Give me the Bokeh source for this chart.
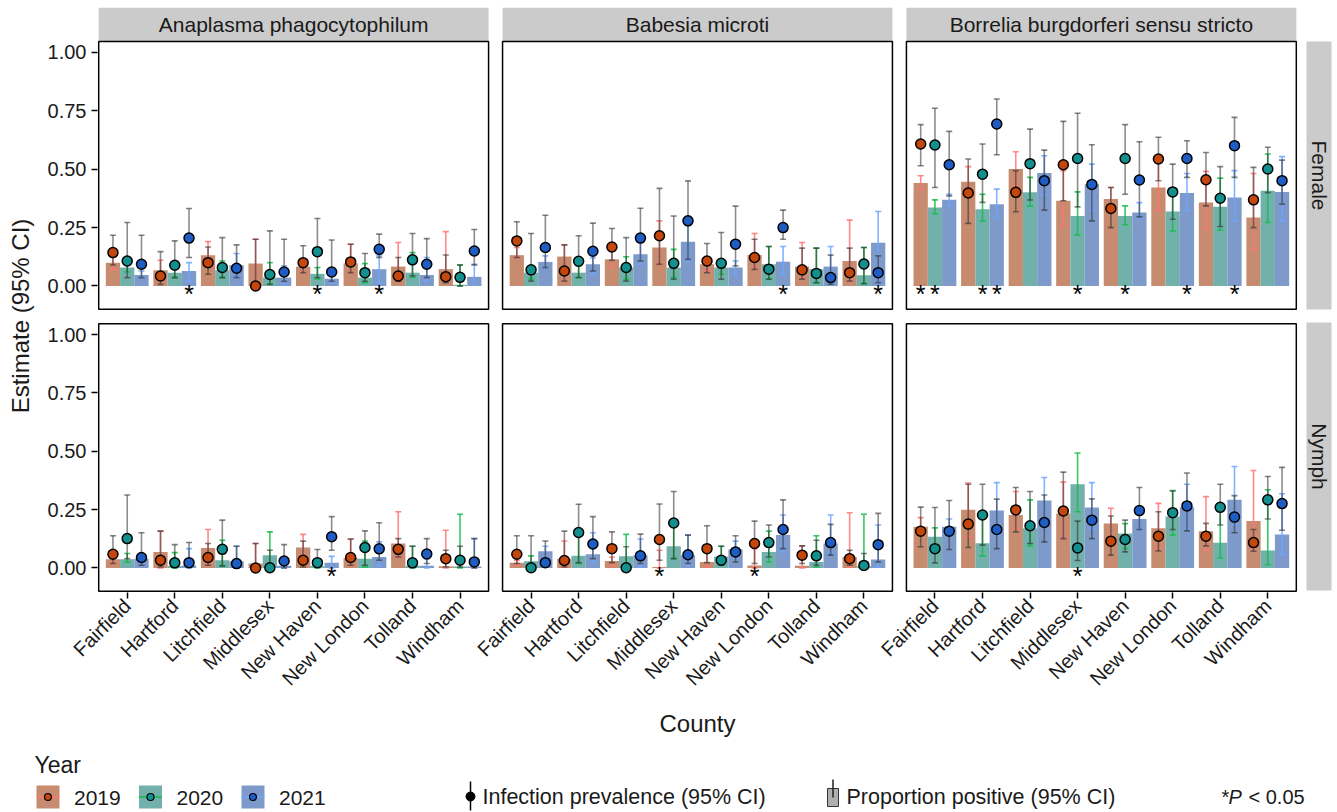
import math
from bokeh.plotting import figure
from bokeh.models import FactorRange, Range1d, FixedTicker, ColumnDataSource, Spacer, PrintfTickFormatter
from bokeh.layouts import row, column
from bokeh.transform import dodge
from bokeh.core.properties import value
from bokeh.embed import file_html
from bokeh.resources import INLINE

COUNTIES = ["Fairfield", "Hartford", "Litchfield", "Middlesex",
            "New Haven", "New London", "Tolland", "Windham"]
YEARS = ["2019", "2020", "2021"]
PATHOGENS = ["Anaplasma phagocytophilum", "Babesia microti",
             "Borrelia burgdorferi sensu stricto"]
STAGES = ["Female", "Nymph"]

# values ordered county by county, [2019, 2020, 2021] within each county
# ---- Anaplasma, Female
ANA_F_BAR = [.100, .079, .047, .067, .057, .064, .132, .067, .089, .096, .036, .036,
             .083, .052, .031, .097, .036, .072, .083, .057, .047, .072, .005, .039]
ANA_F_BLO = [.070, .060, .036, .021, .036, .020, .080, .036, .036, .000, .007, .007,
             .057, .030, .014, .057, .014, .014, .020, .036, .020, .020, .000, .007]
ANA_F_BHI = [.130, .093, .064, .110, .079, .100, .190, .107, .139, .200, .100, .086,
             .107, .079, .057, .179, .096, .129, .186, .143, .122, .233, .090, .093]
ANA_F_PT = [.143, .107, .093, .043, .089, .205, .100, .079, .076, .000, .049, .060,
            .100, .147, .060, .103, .057, .157, .043, .112, .093, .040, .037, .150]
ANA_F_PLO = [.090, .036, .036, .007, .036, .122, .050, .036, .036, .000, .007, .020,
             .057, .036, .020, .057, .020, .122, .020, .043, .036, .014, .000, .090]
ANA_F_PHI = [.217, .272, .217, .147, .193, .332, .167, .207, .176, .200, .236, .200,
             .172, .289, .197, .179, .139, .222, .122, .225, .203, .133, .090, .242]
ANA_F_STAR = [("Hartford", "2021"), ("New Haven", "2020"), ("New London", "2021")]

# ---- Babesia, Female
BAB_F_BAR = [.132, .057, .103, .126, .057, .093, .114, .079, .136, .165, .079, .189,
             .093, .079, .079, .133, .093, .104, .083, .072, .083, .107, .046, .185]
BAB_F_BLO = [.120, .030, .079, .020, .036, .050, .079, .030, .093, .093, .036, .107,
             .064, .050, .050, .079, .030, .050, .036, .014, .007, .021, .010, .014]
BAB_F_BHI = [.165, .080, .129, .176, .086, .120, .167, .125, .195, .279, .157, .260,
             .122, .100, .107, .225, .169, .169, .186, .162, .169, .282, .165, .319]
BAB_F_PT = [.193, .069, .165, .064, .106, .149, .167, .079, .205, .215, .097, .279,
            .107, .097, .179, .122, .072, .250, .069, .054, .036, .057, .094, .057]
BAB_F_PLO = [.122, .021, .079, .021, .036, .064, .110, .021, .107, .093, .029, .114,
             .057, .029, .086, .071, .029, .200, .029, .014, .007, .021, .010, .014]
BAB_F_PHI = [.275, .225, .303, .176, .215, .269, .246, .207, .333, .418, .300, .450,
             .182, .229, .342, .200, .169, .325, .162, .162, .132, .162, .165, .129]
BAB_F_STAR = [("New London", "2021"), ("Windham", "2021")]

# ---- Borrelia, Female
BOR_F_BAR = [.441, .336, .369, .446, .329, .350, .501, .401, .484, .365, .300, .436,
             .373, .300, .315, .422, .319, .398, .358, .339, .379, .293, .408, .403]
BOR_F_BLO = [.415, .310, .345, .380, .279, .293, .430, .343, .390, .255, .219, .322,
             .330, .262, .290, .322, .236, .322, .246, .239, .279, .157, .272, .279]
BOR_F_BHI = [.472, .369, .393, .511, .393, .415, .575, .465, .558, .494, .403, .522,
             .422, .343, .357, .544, .400, .482, .491, .462, .494, .482, .565, .554]
BOR_F_PT = [.608, .604, .519, .398, .479, .694, .401, .524, .451, .519, .546, .435,
            .332, .546, .454, .544, .403, .546, .455, .376, .601, .369, .501, .451]
BOR_F_PLO = [.515, .422, .386, .268, .358, .562, .318, .368, .325, .365, .339, .279,
             .250, .393, .296, .451, .286, .465, .343, .255, .465, .250, .400, .350]
BOR_F_PHI = [.691, .761, .662, .544, .608, .801, .494, .672, .582, .705, .740, .605,
             .422, .691, .618, .637, .522, .622, .572, .511, .722, .508, .594, .539]
BOR_F_STAR = [("Fairfield", "2019"), ("Fairfield", "2020"), ("Hartford", "2020"),
              ("Hartford", "2021"), ("Middlesex", "2020"), ("New Haven", "2020"),
              ("New London", "2021"), ("Tolland", "2021")]

# ---- Anaplasma, Nymph
ANA_N_BAR = [.037, .037, .040, .069, .009, .011, .086, .033, .029, .019, .055, .010,
             .088, .009, .023, .043, .040, .047, .105, .010, .010, .008, .006, .006]
ANA_N_BLO = [.020, .025, .020, .000, .000, .000, .012, .009, .000, .000, .000, .000,
             .019, .000, .000, .012, .005, .012, .047, .000, .000, .000, .000, .000]
ANA_N_BHI = [.050, .062, .050, .158, .066, .083, .165, .119, .093, .105, .155, .030,
             .144, .030, .050, .124, .115, .112, .241, .093, .040, .162, .230, .126]
ANA_N_PT = [.059, .126, .045, .033, .022, .023, .045, .080, .019, .000, .001, .030,
            .033, .023, .134, .045, .088, .082, .080, .022, .060, .040, .033, .026]
ANA_N_PLO = [.019, .040, .012, .004, .004, .004, .012, .009, .000, .000, .000, .000,
             .004, .004, .076, .012, .012, .033, .047, .004, .019, .004, .004, .000]
ANA_N_PHI = [.138, .313, .151, .158, .100, .109, .105, .205, .093, .105, .076, .100,
             .115, .079, .220, .124, .159, .194, .126, .093, .126, .076, .093, .126]
ANA_N_STAR = [("New Haven", "2021")]

# ---- Babesia, Nymph
BAB_N_BAR = [.023, .029, .072, .040, .052, .059, .030, .050, .055, .004, .093, .055,
             .026, .049, .079, .011, .069, .141, .010, .026, .105, .047, .008, .036]
BAB_N_BLO = [.012, .000, .026, .004, .019, .026, .009, .000, .004, .000, .040, .012,
             .004, .012, .040, .000, .026, .069, .000, .004, .062, .004, .000, .004]
BAB_N_BHI = [.033, .052, .093, .116, .150, .151, .047, .144, .124, .076, .184, .141,
             .083, .093, .115, .083, .158, .227, .095, .138, .227, .237, .230, .184]
BAB_N_PT = [.059, .001, .023, .032, .152, .103, .083, .001, .052, .122, .193, .057,
            .083, .033, .069, .105, .109, .165, .055, .052, .109, .040, .011, .100]
BAB_N_PLO = [.019, .000, .012, .004, .023, .040, .023, .000, .019, .033, .040, .019,
             .023, .012, .026, .019, .047, .083, .019, .012, .055, .012, .000, .026]
BAB_N_PHI = [.138, .138, .116, .158, .273, .220, .155, .091, .145, .274, .328, .141,
             .181, .093, .138, .201, .184, .292, .095, .119, .187, .076, .062, .234]
BAB_N_STAR = [("Middlesex", "2019"), ("New London", "2019")]

# ---- Borrelia, Nymph
BOR_N_BAR = [.177, .134, .177, .250, .106, .246, .227, .170, .289, .234, .359, .259,
             .191, .148, .210, .170, .221, .260, .158, .108, .292, .201, .075, .144]
BOR_N_BLO = [.141, .083, .141, .134, .052, .141, .170, .095, .191, .126, .241, .170,
             .112, .083, .167, .083, .141, .170, .076, .043, .184, .083, .014, .055]
BOR_N_BHI = [.216, .172, .210, .364, .220, .366, .328, .292, .388, .368, .493, .366,
             .256, .190, .257, .277, .332, .359, .306, .259, .435, .418, .335, .318]
BOR_N_PT = [.158, .083, .158, .188, .227, .165, .249, .181, .195, .244, .086, .205,
            .115, .122, .246, .136, .237, .266, .136, .260, .218, .109, .292, .276]
BOR_N_PLO = [.091, .022, .079, .088, .098, .083, .155, .105, .112, .126, .032, .126,
             .055, .069, .165, .073, .165, .159, .095, .184, .151, .072, .210, .162]
BOR_N_PHI = [.261, .259, .289, .359, .359, .295, .345, .328, .313, .411, .201, .296,
             .223, .205, .345, .241, .330, .407, .191, .359, .310, .165, .392, .431]
BOR_N_STAR = [("Middlesex", "2020")]

PANELS = {
    ("Female", 0): (ANA_F_BAR, ANA_F_BLO, ANA_F_BHI, ANA_F_PT, ANA_F_PLO, ANA_F_PHI, ANA_F_STAR),
    ("Female", 1): (BAB_F_BAR, BAB_F_BLO, BAB_F_BHI, BAB_F_PT, BAB_F_PLO, BAB_F_PHI, BAB_F_STAR),
    ("Female", 2): (BOR_F_BAR, BOR_F_BLO, BOR_F_BHI, BOR_F_PT, BOR_F_PLO, BOR_F_PHI, BOR_F_STAR),
    ("Nymph", 0): (ANA_N_BAR, ANA_N_BLO, ANA_N_BHI, ANA_N_PT, ANA_N_PLO, ANA_N_PHI, ANA_N_STAR),
    ("Nymph", 1): (BAB_N_BAR, BAB_N_BLO, BAB_N_BHI, BAB_N_PT, BAB_N_PLO, BAB_N_PHI, BAB_N_STAR),
    ("Nymph", 2): (BOR_N_BAR, BOR_N_BLO, BOR_N_BHI, BOR_N_PT, BOR_N_PLO, BOR_N_PHI, BOR_N_STAR),
}

FONT = "Liberation Sans"
TXT = "#1a1a1a"
STRIP_BG = "#CBCBCB"
BAR_COL = ["#C78B6F", "#72B0AC", "#7E9ACB"]
ERR_COL = ["#FF7575", "#14BE4A", "#6FA6FF"]
PT_COL = ["#C4470E", "#13908E", "#1F5DC4"]
OFFS = [-0.3, 0.0, 0.3]
STAR_Y = -0.036
Y_LO, Y_HI = -0.1, 1.047
STRIP_H = 0.1457   # strip height, in data units of the panel scale


def make_row(stage):
    row_i = STAGES.index(stage)
    top_strip = row_i == 0
    factors = [(pth, c) for pth in PATHOGENS for c in COUNTIES]
    xr = FactorRange(factors=factors, factor_padding=0, group_padding=0.494,
                     range_padding=0.125, range_padding_units="absolute")
    y_end = Y_HI + STRIP_H if top_strip else Y_HI + 0.005
    p = figure(x_range=xr, y_range=Range1d(Y_LO - 0.005, y_end),
               frame_width=1200, frame_height=303 if top_strip else 270,
               output_backend="svg", toolbar_location=None,
               min_border_top=0, min_border_right=1, min_border_left=57,
               min_border_bottom=148 if row_i == 1 else 0,
               x_axis_location="below" if row_i == 1 else None,
               y_axis_location="left")
    p.xgrid.visible = False
    p.ygrid.visible = False
    p.outline_line_color = None
    p.background_fill_color = "white"
    p.border_fill_color = "white"

    cols = {k: [] for k in ("x", "bar", "blo", "bhi", "pt", "plo", "phi", "year")}
    star_x = {yr: [] for yr in YEARS}
    for ci, pth in enumerate(PATHOGENS):
        bar, blo, bhi, pt, plo, phi, stars = PANELS[(stage, ci)]
        for i, c in enumerate(COUNTIES):
            for k, yr in enumerate(YEARS):
                j = i * 3 + k
                cols["x"].append((pth, c))
                cols["bar"].append(bar[j]); cols["blo"].append(blo[j]); cols["bhi"].append(bhi[j])
                cols["pt"].append(pt[j]); cols["plo"].append(plo[j]); cols["phi"].append(phi[j])
                cols["year"].append(yr)
        for c, yr in stars:
            star_x[yr].append((pth, c))

    srcs = []
    for k, yr in enumerate(YEARS):
        idx = [i for i, y in enumerate(cols["year"]) if y == yr]
        srcs.append(ColumnDataSource({key: [v[i] for i in idx] for key, v in cols.items()}))

    def X(k):
        return dodge("x", OFFS[k], range=xr)

    for k in range(3):
        p.vbar(x=X(k), top="bar", bottom=0, width=0.3, source=srcs[k],
               fill_color=BAR_COL[k], line_color=None)
    for k in range(3):
        p.segment(x0=X(k), y0="blo", x1=X(k), y1="bhi", source=srcs[k],
                  line_color=ERR_COL[k], line_width=1.6, line_alpha=0.85)
        for f in ("blo", "bhi"):
            p.scatter(x=X(k), y=f, source=srcs[k], marker="dash", size=6,
                      line_color=ERR_COL[k], line_width=1.6, line_alpha=0.85)
    for k in range(3):
        p.segment(x0=X(k), y0="plo", x1=X(k), y1="phi", source=srcs[k],
                  line_color="#303030", line_width=1.6, line_alpha=0.55)
        for f in ("plo", "phi"):
            p.scatter(x=X(k), y=f, source=srcs[k], marker="dash", size=6,
                      line_color="#303030", line_width=1.6, line_alpha=0.6)
    for k in range(3):
        p.scatter(x=X(k), y="pt", source=srcs[k], size=10,
                  fill_color=PT_COL[k], line_color="black", line_width=1.5)
    for k, yr in enumerate(YEARS):
        xs = star_x[yr]
        if xs:
            s = ColumnDataSource(dict(x=xs, y=[STAR_Y] * len(xs), t=["*"] * len(xs)))
            p.text(x=X(k), y="y", text="t", source=s, text_font=value(FONT),
                   text_font_size="25px", text_align="center", text_baseline="middle",
                   text_color="black")

    box = ColumnDataSource(dict(l=[(pth, COUNTIES[0]) for pth in PATHOGENS],
                                r=[(pth, COUNTIES[-1]) for pth in PATHOGENS],
                                m=[(pth, COUNTIES[3]) for pth in PATHOGENS],
                                lab=PATHOGENS))
    if top_strip:
        p.quad(left=dodge("l", -0.6, range=xr), right=dodge("r", 0.6, range=xr),
               bottom=Y_HI, top=Y_HI + STRIP_H, source=box, fill_color=STRIP_BG,
               line_color=None)
        p.text(x=dodge("m", 0.5, range=xr), y=Y_HI + STRIP_H / 2, text="lab", source=box,
               text_font=value(FONT), text_font_size="21px", text_align="center",
               text_baseline="middle", text_color=TXT)
    # panel borders
    p.quad(left=dodge("l", -0.6, range=xr), right=dodge("r", 0.6, range=xr),
           bottom=Y_LO, top=Y_HI, source=box, fill_color=None,
           line_color="black", line_width=1.5)

    ax = p.yaxis[0]
    ax.ticker = FixedTicker(ticks=[0, 0.25, 0.5, 0.75, 1.0])
    ax.formatter = PrintfTickFormatter(format="%.2f")
    ax.major_label_text_font = FONT
    ax.major_label_text_font_size = "20px"
    ax.major_label_text_color = TXT
    ax.major_tick_out = 6
    ax.major_tick_in = 0
    ax.minor_tick_out = 0
    ax.minor_tick_in = 0
    ax.major_tick_line_width = 1.5
    ax.axis_line_color = None
    ax.major_label_standoff = 5
    if row_i == 1:
        ax = p.xaxis[0]
        ax.major_label_orientation = math.pi / 4
        ax.major_label_text_font = FONT
        ax.major_label_text_font_size = "20px"
        ax.major_label_text_color = TXT
        ax.major_tick_out = 6
        ax.major_tick_in = 0
        ax.major_tick_line_width = 1.5
        ax.axis_line_color = None
        ax.major_label_standoff = 4
        ax.group_text_font_size = "0px"
        ax.group_text_color = None
        ax.separator_line_color = None
        ax.axis_label = "County"
        ax.axis_label_text_font = FONT
        ax.axis_label_text_font_size = "24px"
        ax.axis_label_text_font_style = "normal"
        ax.axis_label_text_color = TXT
        ax.axis_label_standoff = 10
    return p


def blank(w, h, xr, yr, bg="white", border=0):
    f = figure(frame_width=w, frame_height=h, x_range=xr, y_range=yr,
               output_backend="svg", toolbar_location=None,
               x_axis_location=None, y_axis_location=None, min_border=border)
    f.xgrid.visible = False
    f.ygrid.visible = False
    f.outline_line_color = None
    f.background_fill_color = bg
    f.border_fill_color = "white"
    return f


def side_strip(label):
    f = blank(25, 268, Range1d(0, 1), Range1d(0, 1), bg=STRIP_BG, border=1)
    f.text(x=[0.5], y=[0.5], text=[label], text_font=value(FONT), text_font_size="21px",
           text_align="center", text_baseline="middle", text_color=TXT, angle=-math.pi / 2)
    return f


row_figs = [make_row(s) for s in STAGES]
rows = [
    row(row_figs[0], Spacer(width=7, height=10),
        column(Spacer(width=27, height=33), side_strip(STAGES[0]))),
    row(row_figs[1], Spacer(width=7, height=10), side_strip(STAGES[1])),
]

ylab = blank(40, 732, Range1d(0, 40), Range1d(739, 7))
ylab.text(x=[20], y=[315.5], text=["Estimate (95% CI)"], text_font=value(FONT),
          text_font_size="24px", text_align="center", text_baseline="middle",
          text_color=TXT, angle=math.pi / 2)

body = row(ylab, column(rows[0], Spacer(width=10, height=11), rows[1]))

# ---- legend
leg = blank(1337, 73, Range1d(0, 1337), Range1d(812, 739))
leg.text(x=[34], y=[764], text=["Year"], text_font=value(FONT), text_font_size="23px",
         text_align="left", text_baseline="middle", text_color=TXT)
KEY_X = [47.5, 150, 252.5]
for k, yr in enumerate(YEARS):
    kx = KEY_X[k]
    leg.rect(x=[kx], y=[796.5], width=23, height=23, fill_color=BAR_COL[k], line_color=None)
    leg.segment(x0=[kx - 11.5], y0=[796.5], x1=[kx + 11.5], y1=[796.5],
                line_color=ERR_COL[k], line_width=1.5)
    leg.scatter(x=[kx], y=[796.5], size=7, fill_color=PT_COL[k], line_color="black", line_width=1.2)
    leg.text(x=[kx + 26], y=[797], text=[yr], text_font=value(FONT), text_font_size="21px",
             text_align="left", text_baseline="middle", text_color=TXT)

leg.segment(x0=[470], y0=[781], x1=[470], y1=[810], line_color="black", line_width=1.5)
leg.scatter(x=[470], y=[796], size=9, fill_color="black", line_color="black")
leg.text(x=[482], y=[796], text=["Infection prevalence (95% CI)"], text_font=value(FONT),
         text_font_size="21.5px", text_align="left", text_baseline="middle", text_color=TXT)

leg.rect(x=[832.5], y=[797], width=11, height=18, fill_color="#AFAFAF", line_color="#333333", line_width=1)
leg.segment(x0=[832.5], y0=[779], x1=[832.5], y1=[797], line_color="#222222", line_width=1.5)
leg.text(x=[846], y=[796], text=["Proportion positive (95% CI)"], text_font=value(FONT),
         text_font_size="21.5px", text_align="left", text_baseline="middle", text_color=TXT)

leg.text(x=[1221], y=[796], text=["*"], text_font=value(FONT),
         text_font_size="20px", text_align="left", text_baseline="middle", text_color=TXT)
leg.text(x=[1228], y=[796], text=["P"], text_font=value(FONT), text_font_style="italic",
         text_font_size="20px", text_align="left", text_baseline="middle", text_color=TXT)
leg.text(x=[1248], y=[796], text=["< 0.05"], text_font=value(FONT),
         text_font_size="20px", text_align="left", text_baseline="middle", text_color=TXT)

layout = column(Spacer(width=1337, height=7), body, leg)

open("out.html", "w").write(file_html(layout, INLINE))
